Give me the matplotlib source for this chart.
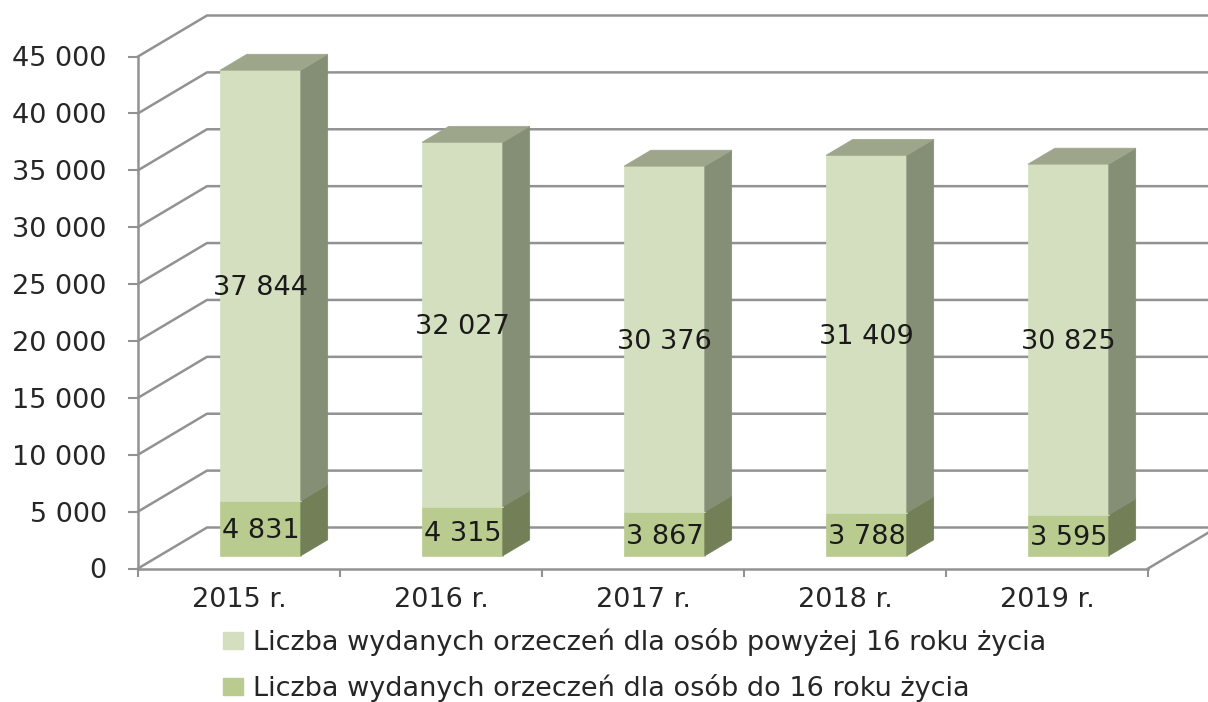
import numpy as np
import matplotlib
matplotlib.use('Agg')
import matplotlib.pyplot as plt
from matplotlib.patches import Patch, Polygon

years = ['2015 r.', '2016 r.', '2017 r.', '2018 r.', '2019 r.']
under_16 = [4831, 4315, 3867, 3788, 3595]
over_16 = [37844, 32027, 30376, 31409, 30825]
y_ticks = [0, 5000, 10000, 15000, 20000, 25000, 30000, 35000, 40000, 45000]
legend_labels = ['Liczba wydanych orzeczeń dla osób powyżej 16 roku życia',
                 'Liczba wydanych orzeczeń dla osób do 16 roku życia']

GRID = '#929292'
TEXT = '#262626'
FRONT = ['#b9cb8f', '#d3dfbf']
SIDE = ['#727f57', '#858f75']
TOP = '#9da68a'

# how far the back wall is shifted from the front plane, in data units
BACK_X = 69 / 202
BACK_Y = 41 / (512 / 45000)


def fmt(v):
    return f'{v:,}'.replace(',', ' ')


def proj(x, y, d):
    """Data position of a point at depth d (0 front plane, 1 back wall)."""
    return x + d * BACK_X, y + d * BACK_Y


def face(ax, pts, color):
    ax.add_patch(Polygon([proj(*p) for p in pts], closed=True, facecolor=color,
                         edgecolor=color, linewidth=0.5, zorder=3, clip_on=False))


fig = plt.figure(figsize=(12.08, 7.02), dpi=100)
ax = fig.add_axes([138 / 1208, (702 - 568.5) / 702, 1010 / 1208, 512 / 702])
ax.set_xlim(0, 5)
ax.set_ylim(0, 45000)
ax.patch.set_visible(False)

for s in ['top', 'right']:
    ax.spines[s].set_visible(False)
for s in ['left', 'bottom']:
    ax.spines[s].set_color(GRID)
    ax.spines[s].set_linewidth(1.8)

ax.set_yticks(y_ticks)
ax.set_yticklabels([fmt(v) for v in y_ticks], fontsize=19.5, color=TEXT, va='center_baseline')
ax.set_xticks(range(6))
ax.set_xticklabels([])
ax.set_xticks(np.arange(5) + 0.5, minor=True)
ax.set_xticklabels(years, minor=True, fontsize=19.5, color=TEXT)
ax.tick_params(axis='y', color=GRID, width=1.5, length=7, pad=15.5)
ax.tick_params(axis='x', which='major', color=GRID, width=1.5, length=6)
ax.tick_params(axis='x', which='minor', length=0, pad=13)

# walls and floor
for v in y_ticks:
    x0, y0 = proj(0, v, 0)
    x1, y1 = proj(0, v, 1)
    ax.plot([x0, x1, 5.5], [y0, y1, y1], color=GRID, lw=1.8, clip_on=False, zorder=1)
x0, y0 = proj(5, 0, 0)
x1, y1 = proj(5, 0, 1)
ax.plot([x0, x1], [y0, y1], color=GRID, lw=1.8, clip_on=False, zorder=1)

# stacked 3d bars
half = 0.2
d0, d1 = 0.31, 0.70
for i in range(len(years)):
    left = i + 0.5 - half
    right = i + 0.5 + half
    base = 0
    for j, vals in enumerate([under_16, over_16]):
        top = base + vals[i]
        face(ax, [(left, base, d0), (right, base, d0), (right, top, d0), (left, top, d0)], FRONT[j])
        face(ax, [(right, base, d0), (right, base, d1), (right, top, d1), (right, top, d0)], SIDE[j])
        tx, ty = proj(i + 0.5, base + vals[i] / 2, d0)
        ax.annotate(fmt(vals[i]), (tx, ty), xytext=(0, -2), textcoords='offset points',
                    ha='center', va='center', fontsize=19.5, color='#1a1a1a', zorder=5)
        base = top
    face(ax, [(left, base, d0), (right, base, d0), (right, base, d1), (left, base, d1)], TOP)

handles = [Patch(color=FRONT[1]), Patch(color=FRONT[0])]
ax.legend(handles, legend_labels, loc='upper left', bbox_to_anchor=(223 / 1208, 74 / 702),
          bbox_transform=fig.transFigure, frameon=False, fontsize=19.5, labelcolor=TEXT,
          handlelength=0.75, handleheight=0.6, handletextpad=0.37, labelspacing=0.66,
          borderpad=0, borderaxespad=0)

fig.savefig('out.png', dpi=100)
